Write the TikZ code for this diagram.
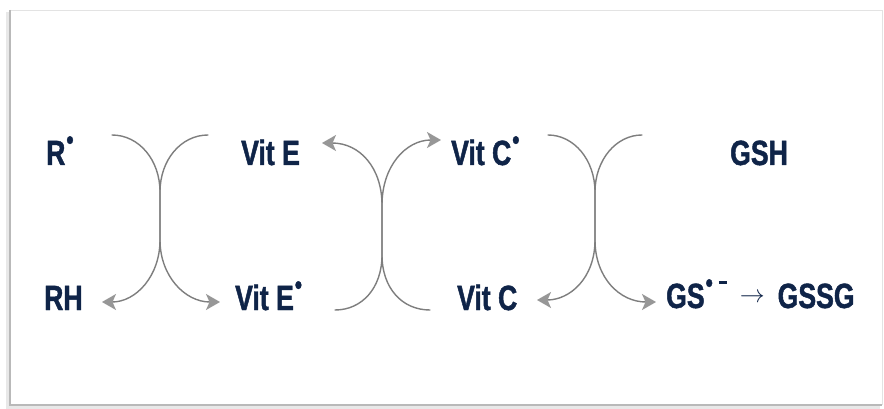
\documentclass[tikz,border=0pt]{standalone}
\usepackage{fontspec}
\setmainfont{Liberation Sans}
\newfontfamily\labfont{Liberation Sans}[FakeStretch=0.76,
  BoldFeatures={FakeStretch=0.76,FakeBold=1.3}]
\usetikzlibrary{arrows.meta}

\definecolor{ink}{HTML}{0F2448}
\definecolor{curve}{HTML}{7E7E7E}
\definecolor{tipgray}{HTML}{979797}

% radical dot and charge mark
\newcommand\radmark{\kern1pt\raisebox{16pt}{\fontsize{27}{27}\selectfont\textbullet}}
\newcommand\negmark{\kern6pt\raisebox{24pt}{\rule{8pt}{3.5pt}}}

\begin{document}
\begin{tikzpicture}[x=1pt,y=-1pt,
  species/.style={anchor=base west,inner sep=0pt,text=ink,
    font=\labfont\bfseries\fontsize{35}{35}\selectfont},
  swap/.style={draw=curve,line width=1.4pt,line cap=round},
  tipped/.style={swap,-{Stealth[length=14pt,width=16pt,inset=3.5pt,color=tipgray]}}]

\useasboundingbox (0,0) rectangle (884,409);

% frame with a soft shadow on the left and bottom
\fill[white] (10,10) rectangle (882,405);
\draw[gray!18,line width=3pt] (7,12) -- (7,407) -- (880,407);
\draw[gray!22,line width=0.8pt] (10,10) -- (882,10) -- (882,405);
\draw[gray!55,line width=1.6pt] (10,10) -- (10,405) -- (882,405);

% species
\node[species] (rR)  at (46,165)  {R\radmark};
\node[species] (rRH) at (44,310)  {RH};
\node[species] (vE)  at (241,165) {Vit E};
\node[species] (vEr) at (235,310) {Vit E\radmark};
\node[species] (vCr) at (451,165) {Vit C\radmark};
\node[species] (vC)  at (457,310) {Vit C};
\node[species] (gsh) at (730,165) {GSH};
\node[species] (gs) at (666,308)
  {GS\radmark\negmark\kern13pt\raisebox{6pt}{$\rightarrow$}\kern13pt GSSG};

% curve ends
\coordinate (a1) at (112,135);
\coordinate (b1) at (208,135);
\coordinate (t1) at (220,302);
\coordinate (u1) at (102,302);

\coordinate (a2) at (430,310);
\coordinate (b2) at (335,310);
\coordinate (t2) at (322,143);
\coordinate (u2) at (441,140);

\coordinate (a3) at (548,135);
\coordinate (b3) at (642,135);
\coordinate (t3) at (656,302);
\coordinate (u3) at (537,300);

% R. + Vit E -> RH + Vit E.
\draw[tipped] (a1) .. controls (139,135) and (160,160) .. (160,192) -- (160,240)
  .. controls (160,276) and (185,302) .. (t1);
\draw[tipped] (b1) .. controls (181,135) and (160,160) .. (160,192) -- (160,240)
  .. controls (160,276) and (136,302) .. (u1);

% Vit E. + Vit C -> Vit E + Vit C.
\draw[tipped] (a2) .. controls (402,310) and (382,288) .. (382,255) -- (382,205)
  .. controls (382,168) and (360,143) .. (t2);
\draw[tipped] (b2) .. controls (362,310) and (382,288) .. (382,255) -- (382,205)
  .. controls (382,166) and (406,140) .. (u2);

% Vit C. + GSH -> Vit C + GS.-
\draw[tipped] (a3) .. controls (574,135) and (595,160) .. (595,192) -- (595,240)
  .. controls (595,278) and (620,302) .. (t3);
\draw[tipped] (b3) .. controls (616,135) and (595,160) .. (595,192) -- (595,240)
  .. controls (595,278) and (570,300) .. (u3);

\end{tikzpicture}
\end{document}
